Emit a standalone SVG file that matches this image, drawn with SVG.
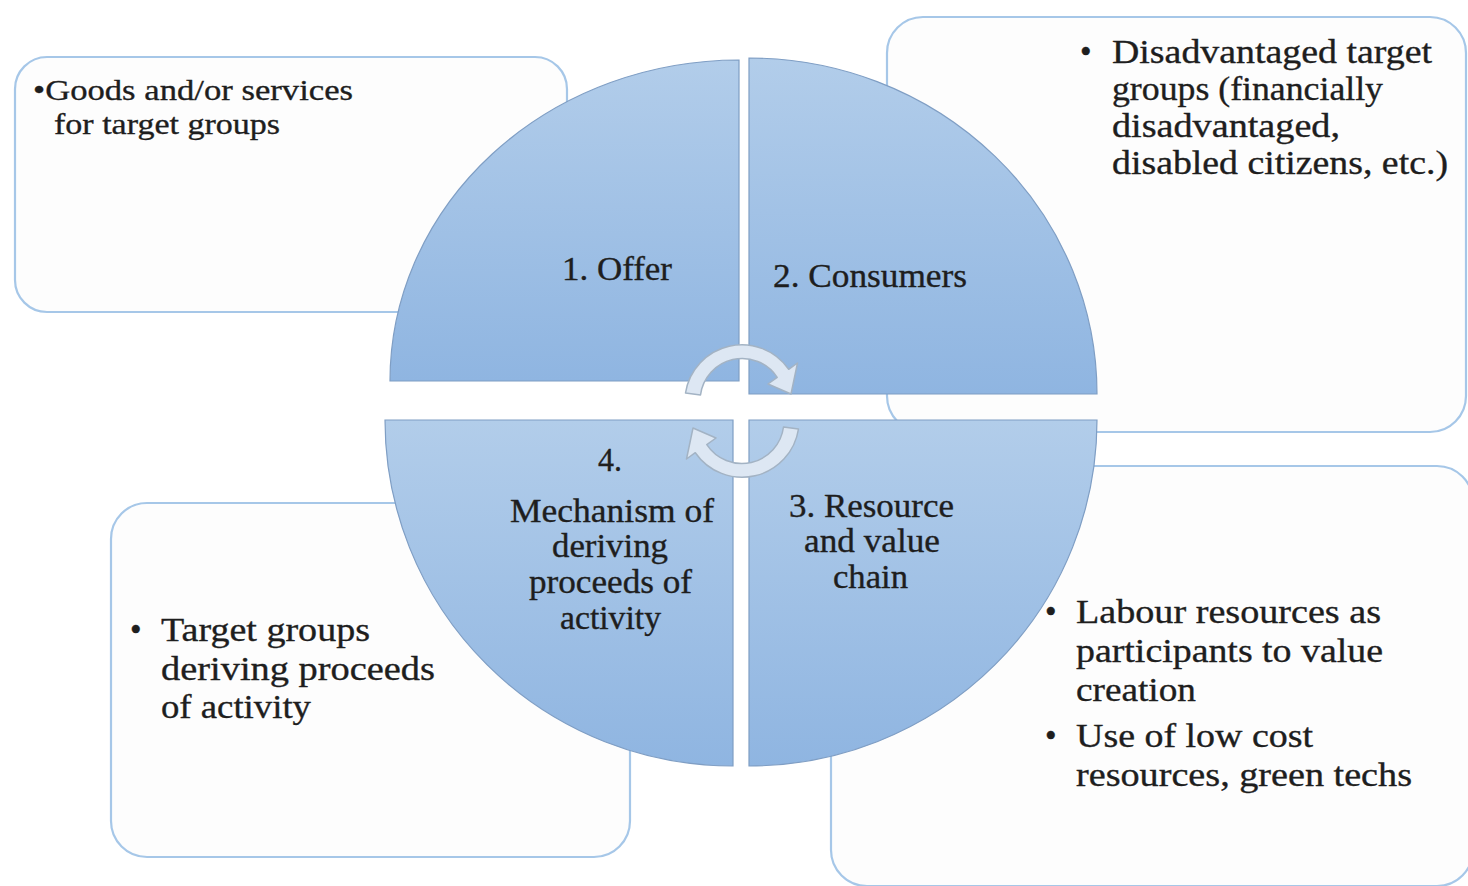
<svg xmlns="http://www.w3.org/2000/svg" width="1468" height="886" viewBox="0 0 1468 886">
<style>
.box{fill:#fdfdfd;stroke:#a6c7e8;stroke-width:2.2}
.quad{stroke:#7f9ec4;stroke-width:1.2}
.t{font-family:"Liberation Serif","Times New Roman",serif;fill:#1e1e1e;stroke:#1e1e1e;stroke-width:0.35;font-size:33px}
.ts{font-family:"Liberation Serif","Times New Roman",serif;fill:#1e1e1e;stroke:#1e1e1e;stroke-width:0.35;font-size:30px}
.cyc{fill:#dde7f3;stroke:#a3b3c4;stroke-width:1.5;stroke-linejoin:round}
</style>
<defs>
<linearGradient id="qg" x1="0" y1="0" x2="0" y2="1">
<stop offset="0" stop-color="#b2cdea"/>
<stop offset="1" stop-color="#8fb5e1"/>
</linearGradient>
</defs>
<rect width="1468" height="886" fill="#ffffff"/>

<g id="box-offer">
<rect class="box" x="15" y="57" width="552" height="255" rx="32"/>
<text class="ts" x="33" y="100" textLength="320" lengthAdjust="spacingAndGlyphs">•Goods and/or services</text>
<text class="ts" x="54" y="134" textLength="226" lengthAdjust="spacingAndGlyphs">for target groups</text>
</g>

<g id="box-consumers">
<rect class="box" x="887" y="17" width="579" height="415" rx="36"/>
<text class="t" x="1080" y="63">•</text>
<text class="t" x="1112" y="63" textLength="320" lengthAdjust="spacingAndGlyphs">Disadvantaged target</text>
<text class="t" x="1112" y="100" textLength="271" lengthAdjust="spacingAndGlyphs">groups (financially</text>
<text class="t" x="1112" y="137" textLength="228" lengthAdjust="spacingAndGlyphs">disadvantaged,</text>
<text class="t" x="1112" y="174" textLength="336" lengthAdjust="spacingAndGlyphs">disabled citizens, etc.)</text>
</g>

<g id="box-proceeds">
<rect class="box" x="111" y="503" width="519" height="354" rx="36"/>
<text class="t" x="130" y="641">•</text>
<text class="t" x="161" y="641" textLength="209" lengthAdjust="spacingAndGlyphs">Target groups</text>
<text class="t" x="161" y="680" textLength="274" lengthAdjust="spacingAndGlyphs">deriving proceeds</text>
<text class="t" x="161" y="718" textLength="150" lengthAdjust="spacingAndGlyphs">of activity</text>
</g>

<g id="box-resources">
<rect class="box" x="831" y="466" width="642" height="420" rx="36"/>
<text class="t" x="1045" y="623">•</text>
<text class="t" x="1076" y="623" textLength="305" lengthAdjust="spacingAndGlyphs">Labour resources as</text>
<text class="t" x="1076" y="662" textLength="307" lengthAdjust="spacingAndGlyphs">participants to value</text>
<text class="t" x="1076" y="701" textLength="120" lengthAdjust="spacingAndGlyphs">creation</text>
<text class="t" x="1045" y="747">•</text>
<text class="t" x="1076" y="747" textLength="237" lengthAdjust="spacingAndGlyphs">Use of low cost</text>
<text class="t" x="1076" y="786" textLength="336" lengthAdjust="spacingAndGlyphs">resources, green techs</text>
</g>

<g id="q1-offer">
<path class="quad" fill="url(#qg)" d="M739 381 L390 381 A349 321 0 0 1 739 60 Z"/>
<text class="t" x="562" y="280" textLength="110" lengthAdjust="spacingAndGlyphs">1. Offer</text>
</g>
<g id="q2-consumers">
<path class="quad" fill="url(#qg)" d="M749 394 L749 58 A348 336 0 0 1 1097 394 Z"/>
<text class="t" x="773" y="287" textLength="194" lengthAdjust="spacingAndGlyphs">2. Consumers</text>
</g>
<g id="q3-resource">
<path class="quad" fill="url(#qg)" d="M749 420 L1097 420 A348 346 0 0 1 749 766 Z"/>
<text class="t" x="789" y="517" textLength="165" lengthAdjust="spacingAndGlyphs">3. Resource</text>
<text class="t" x="804" y="552" textLength="136" lengthAdjust="spacingAndGlyphs">and value</text>
<text class="t" x="833" y="588" textLength="75" lengthAdjust="spacingAndGlyphs">chain</text>
</g>
<g id="q4-mechanism">
<path class="quad" fill="url(#qg)" d="M733 420 L733 766 A348 346 0 0 1 385 420 Z"/>
<text class="t" x="598" y="471" textLength="24" lengthAdjust="spacingAndGlyphs">4.</text>
<text class="t" x="510" y="522" textLength="204" lengthAdjust="spacingAndGlyphs">Mechanism of</text>
<text class="t" x="552" y="557" textLength="116" lengthAdjust="spacingAndGlyphs">deriving</text>
<text class="t" x="529" y="593" textLength="163" lengthAdjust="spacingAndGlyphs">proceeds of</text>
<text class="t" x="560" y="629" textLength="101" lengthAdjust="spacingAndGlyphs">activity</text>
</g>

<g id="connectors">
<path id="cycle-top" class="cyc" d="M685.5 393 A57 57 0 0 1 788.7 369.3 L797.5 363 L791 394 L768 384 L777.2 377.3 A42 42 0 0 0 700.5 395 Z"/>
<path id="cycle-bottom" class="cyc" transform="rotate(180 742 411)" d="M685.5 393 A57 57 0 0 1 788.7 369.3 L797.5 363 L791 394 L768 384 L777.2 377.3 A42 42 0 0 0 700.5 395 Z"/>
</g>
</svg>
